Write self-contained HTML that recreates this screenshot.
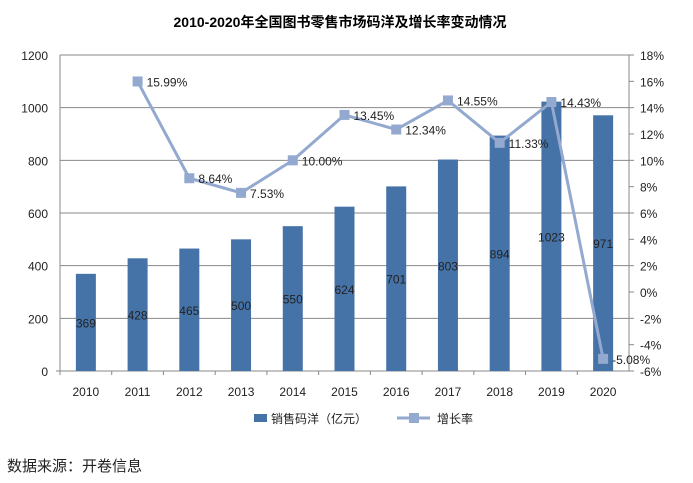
<!DOCTYPE html>
<html><head><meta charset="utf-8"><style>
body{margin:0;background:#fff;width:693px;height:483px;overflow:hidden;font-family:"Liberation Sans","Noto Sans CJK SC",sans-serif}
</style></head><body>
<svg id="c" width="693" height="483" style="position:absolute;left:0;top:0"></svg>
<script>
const years=["2010","2011","2012","2013","2014","2015","2016","2017","2018","2019","2020"];
const sales=[369,428,465,500,550,624,701,803,894,1023,971];
const growth=[null,15.99,8.64,7.53,10.00,13.45,12.34,14.55,11.33,14.43,-5.08];
const leftTicks=[0,200,400,600,800,1000,1200];
const rightTicks=[-6,-4,-2,0,2,4,6,8,10,12,14,16,18];
const NS="http://www.w3.org/2000/svg";
const svg=document.getElementById('c');
const L=60,R=629,T=55,B=371;
const bw=(R-L)/years.length;
const xc=i=>L+bw*(i+0.5);
const yl=v=>B-(v/1200)*(B-T);
const yr=v=>B-((v+6)/24)*(B-T);
function mk(t,a,p){const e=document.createElementNS(NS,t);for(const k in a)e.setAttribute(k,a[k]);(p||svg).appendChild(e);return e;}
function tx(s,a){const e=mk('text',a);e.textContent=s;return e;}
const title=tx("2010-2020年全国图书零售市场码洋及增长率变动情况",{x:340,y:27,'text-anchor':'middle','font-size':14,'font-weight':'bold',fill:'#000'});

leftTicks.forEach(v=>{
 if(v>0){const g=mk('line',{x1:L,x2:R,y1:yl(v),y2:yl(v),stroke:'#888','stroke-width':1});
 }
 const t=tx(String(v),{x:48,y:yl(v)+5,'text-anchor':'end','font-size':12,fill:'#222'});
 
});
rightTicks.forEach(v=>{
 mk('line',{x1:R,x2:R+5,y1:yr(v),y2:yr(v),stroke:'#888'});
 const t=tx(v+"%",{x:640,y:yr(v)+5,'font-size':12,fill:'#222'});
 
});
mk('line',{x1:L,x2:L,y1:T,y2:B,stroke:'#888'});
mk('line',{x1:R,x2:R,y1:T,y2:B,stroke:'#888'});
mk('line',{x1:L-4,x2:R,y1:B,y2:B,stroke:'#888'});
years.forEach((y,i)=>{
 mk('line',{x1:L+bw*i,x2:L+bw*i,y1:B,y2:B+4,stroke:'#888'});
 const b=mk('rect',{x:xc(i)-10,y:yl(sales[i]),width:20,height:B-yl(sales[i]),fill:'#4572a7'});
 
 const lb=tx(String(sales[i]),{x:xc(i),y:(yl(sales[i])+B)/2+5,'text-anchor':'middle','font-size':12,fill:'#222'});
 
 const xl=tx(y,{x:xc(i),y:396,'text-anchor':'middle','font-size':12,fill:'#222'});
 
});
let pts=[];growth.forEach((g,i)=>{if(g!==null)pts.push(xc(i)+','+yr(g));});
const ln=mk('polyline',{points:pts.join(' '),fill:'none',stroke:'#93a9cf','stroke-width':3});

growth.forEach((g,i)=>{if(g===null)return;
 const m=mk('rect',{x:xc(i)-5,y:yr(g)-5,width:10,height:10,fill:'#93a9cf'});
 
 const t=tx(g.toFixed(2)+"%",{x:xc(i)+9,y:yr(g)+5,'font-size':12,fill:'#222'});
 
});
const lg1=mk('rect',{x:254,y:414,width:13,height:8,fill:'#4572a7'});

const lt1=tx("销售码洋（亿元）",{x:271,y:423,'font-size':12,fill:'#222'});

mk('line',{x1:397,x2:430,y1:418,y2:418,stroke:'#93a9cf','stroke-width':3});
mk('rect',{x:409,y:413,width:10,height:10,fill:'#93a9cf'});
const lt2=tx("增长率",{x:437,y:423,'font-size':12,fill:'#222'});

const src=tx("数据来源：开卷信息",{x:7,y:471,'font-size':15,fill:'#222'});

</script>
</body></html>
